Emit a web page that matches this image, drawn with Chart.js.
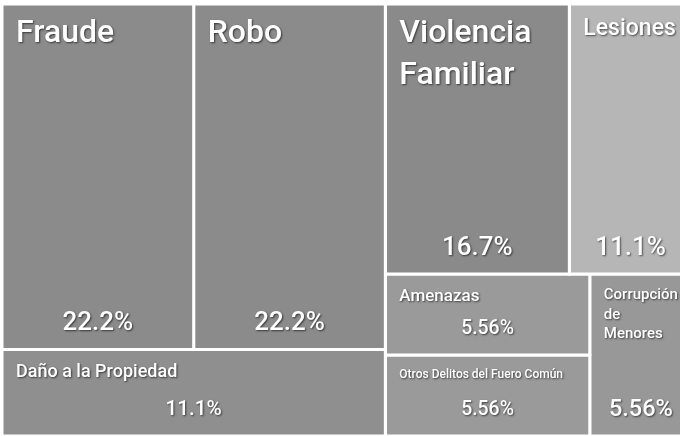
<!DOCTYPE html>
<html>
<head>
<meta charset="utf-8">
<script src="https://cdn.jsdelivr.net/npm/chart.js@4/dist/chart.umd.min.js"></script>
<style>
  html, body { margin: 0; padding: 0; background: #fff; overflow: hidden; }
  #wrap { width: 692px; height: 436px; position: relative; }
</style>
</head>
<body>
<div id="wrap"><canvas id="treemap"></canvas></div>
<script>
// delitos y número de casos
const categories = ["Fraude", "Robo", "Daño a la Propiedad", "Violencia Familiar", "Lesiones",
    "Amenazas", "Otros Delitos del Fuero Común", "Corrupción de Menores"];
const counts = [4, 4, 2, 3, 2, 1, 1, 1];
// bloque al que pertenece cada delito (dos bloques en el mapa)
const blocks = [0, 0, 0, 1, 1, 1, 1, 1];

const palette = ["#8b8b8b", "#8b8b8b", "#8f8f8f", "#8a8a8a", "#b6b6b6", "#9a9a9a", "#9a9a9a", "#989898"];
const FONT = "Roboto, 'Open Sans', sans-serif";
const PAD = 14;

// el mapa es algo más ancho que la ventana, se corta por la derecha
const W = 690;
const H = 432;
const total = counts.reduce((a, b) => a + b, 0);

// squarify like d3 (golden ratio)
function squarify(values, x0, y0, x1, y1) {
    const ratio = (1 + Math.sqrt(5)) / 2;
    const out = [];
    const n = values.length;
    let value = values.reduce((a, b) => a + b, 0);
    let i0 = 0, i1 = 0;
    while (i0 < n) {
        const dx = x1 - x0, dy = y1 - y0;
        let sum = values[i1++];
        let minV = sum, maxV = sum;
        const alpha = Math.max(dy / dx, dx / dy) / (value * ratio);
        let beta = sum * sum * alpha;
        let minRatio = Math.max(maxV / beta, beta / minV);
        for (; i1 < n; ++i1) {
            const v = values[i1];
            sum += v;
            if (v < minV) minV = v;
            if (v > maxV) maxV = v;
            beta = sum * sum * alpha;
            const r = Math.max(maxV / beta, beta / minV);
            if (r > minRatio) { sum -= v; break; }
            minRatio = r;
        }
        const row = values.slice(i0, i1);
        if (dx < dy) {
            const yk = y0 + dy * sum / value;
            let x = x0;
            row.forEach((v, k) => {
                const xe = k === row.length - 1 ? x1 : x + dx * v / sum;
                out.push([x, y0, xe, yk]);
                x = xe;
            });
            y0 = yk;
        } else {
            const xk = x0 + dx * sum / value;
            let y = y0;
            row.forEach((v, k) => {
                const ye = k === row.length - 1 ? y1 : y + dy * v / sum;
                out.push([x0, y, xk, ye]);
                y = ye;
            });
            x0 = xk;
        }
        value -= sum;
        i0 = i1;
    }
    return out;
}

function layout() {
    const blockIds = [...new Set(blocks)];
    const blockTotals = blockIds.map(b => counts.filter((c, i) => blocks[i] === b).reduce((a, c) => a + c, 0));
    const blockRects = squarify(blockTotals, 0, 0, W, H);
    const rects = [];
    blockIds.forEach((b, bi) => {
        const idx = counts.map((c, i) => i).filter(i => blocks[i] === b);
        const r = blockRects[bi];
        const sub = squarify(idx.map(i => counts[i]), r[0], r[1], r[2], r[3]);
        idx.forEach((i, k) => rects[i] = sub[k]);
    });
    return rects;
}

const cells = layout();

const datasets = cells.map((r, i) => ({
    label: categories[i],
    data: [
        { x: r[0], y: r[1] }, { x: r[2], y: r[1] }, { x: r[2], y: r[3] },
        { x: r[0], y: r[3] }, { x: r[0], y: r[1] }
    ],
    backgroundColor: palette[i],
    borderColor: "#ffffff",
    borderWidth: 3,
    borderJoinStyle: "miter",
    fill: "shape",
    pointRadius: 0,
    tension: 0
}));

function fitLabel(ctx, text, w, h) {
    const avail = w - 2 * PAD;
    const maxSize = Math.min(32, h * 0.21);
    const maxH = h * 0.45;
    for (let s = Math.floor(maxSize); s >= 7; s--) {
        ctx.font = `500 ${s}px ${FONT}`;
        if (ctx.measureText(text).width <= avail) return { size: s, lines: [text] };
        const words = text.split(" ");
        if (words.length > 1 && words.every(wd => ctx.measureText(wd).width <= avail)
            && words.length * s * 1.3 <= maxH) {
            return { size: s, lines: words };
        }
    }
    return { size: 7, lines: [text] };
}

const cellLabels = {
    id: "cellLabels",
    afterDatasetsDraw(chart) {
        const { ctx, scales: { x, y } } = chart;
        ctx.save();
        ctx.fillStyle = "#ffffff";
        ctx.shadowColor = "rgba(0,0,0,0.6)";
        ctx.shadowBlur = 2;
        ctx.shadowOffsetX = 1;
        ctx.shadowOffsetY = 1;
        cells.forEach((r, i) => {
            const px0 = x.getPixelForValue(r[0]), px1 = x.getPixelForValue(r[2]);
            const py0 = y.getPixelForValue(r[1]), py1 = y.getPixelForValue(r[3]);
            const w = px1 - px0, h = py1 - py0;

            const fit = fitLabel(ctx, categories[i], w, h);
            ctx.font = `500 ${fit.size}px ${FONT}`;
            ctx.textAlign = "left";
            ctx.textBaseline = "top";
            fit.lines.forEach((line, k) => {
                ctx.fillText(line, px0 + PAD, py0 + PAD + k * fit.size * 1.3);
            });

            const pct = (counts[i] / total * 100).toPrecision(3) + "%";
            const ps = Math.min(26, h * 0.24, w * 0.23);
            ctx.font = `500 ${ps}px ${FONT}`;
            ctx.textAlign = "center";
            ctx.textBaseline = "middle";
            ctx.fillText(pct, (px0 + px1) / 2, py1 - 26);
        });
        ctx.restore();
    }
};

new Chart(document.getElementById("treemap"), {
    type: "line",
    data: { datasets },
    options: {
        responsive: true,
        maintainAspectRatio: false,
        animation: false,
        layout: { padding: { top: 4, left: 2, right: 0, bottom: 0 } },
        scales: {
            x: { type: "linear", min: 0, max: W, display: false },
            y: { type: "linear", min: 0, max: H, reverse: true, display: false }
        },
        plugins: {
            legend: { display: false },
            tooltip: { enabled: false }
        }
    },
    plugins: [cellLabels]
});
</script>
</body>
</html>
